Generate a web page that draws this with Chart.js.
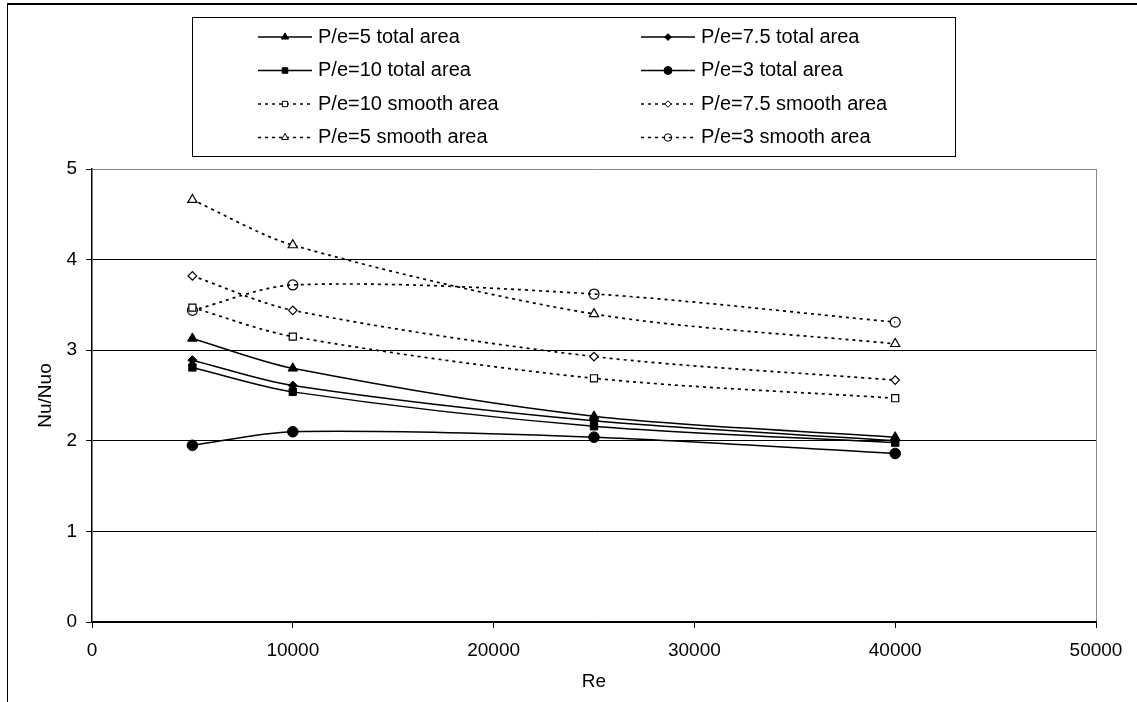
<!DOCTYPE html>
<html>
<head>
<meta charset="utf-8">
<title>Nu/Nuo vs Re</title>
<script src="https://cdn.jsdelivr.net/npm/chart.js@4/dist/chart.umd.min.js"></script>
<style>
    html, body { margin: 0; padding: 0; background: #fff; }
    #wrap { width: 1137px; height: 702px; position: relative; }
</style>
</head>
<body>
<div id="wrap"><canvas id="nuChart" width="1137" height="702"></canvas></div>
<script>
// Reynolds numbers tested
const reValues = [5000, 10000, 25000, 40000];

// Nu/Nuo based on total (ribbed) area
const pe5Total = [3.13, 2.80, 2.27, 2.04];
const pe75Total = [2.89, 2.61, 2.22, 2.00];
const pe10Total = [2.81, 2.54, 2.16, 1.98];
const pe3Total = [1.95, 2.10, 2.04, 1.86];

// Nu/Nuo based on smooth area
const pe10Smooth = [3.47, 3.15, 2.69, 2.47];
const pe75Smooth = [3.82, 3.44, 2.93, 2.67];
const pe5Smooth = [4.66, 4.16, 3.40, 3.07];
const pe3Smooth = [3.44, 3.72, 3.62, 3.31];

const xTicks = [0, 10000, 20000, 30000, 40000, 50000];
const yTicks = [0, 1, 2, 3, 4, 5];

const FONT = 'Liberation Sans, Arial, sans-serif';

const toPoints = (ys) => ys.map((y, i) => ({ x: reValues[i], y: y }));

// Solid line with filled marker
function totalSeries(label, ys, style, radius) {
    return {
        label: label,
        data: toPoints(ys),
        borderColor: '#000',
        borderWidth: 1.5,
        pointStyle: style,
        pointRadius: radius,
        pointBackgroundColor: '#000',
        pointBorderColor: '#000',
        pointBorderWidth: 1,
        tension: 0.3
    };
}

// Dotted line with hollow marker
function smoothSeries(label, ys, style, radius, fill) {
    return {
        label: label,
        data: toPoints(ys),
        borderColor: '#000',
        borderWidth: 1.7,
        borderDash: [3, 4],
        pointStyle: style,
        pointRadius: radius,
        pointBackgroundColor: fill,
        pointBorderColor: '#000',
        pointBorderWidth: 1.2,
        tension: 0.3
    };
}

const datasets = [
    totalSeries('P/e=5 total area', pe5Total, 'triangle', 5.5),
    totalSeries('P/e=7.5 total area', pe75Total, 'rectRot', 4.5),
    totalSeries('P/e=10 total area', pe10Total, 'rect', 5.2),
    totalSeries('P/e=3 total area', pe3Total, 'circle', 5.3),
    smoothSeries('P/e=10 smooth area', pe10Smooth, 'rect', 5, '#fff'),
    smoothSeries('P/e=7.5 smooth area', pe75Smooth, 'rectRot', 4.3, '#fff'),
    smoothSeries('P/e=5 smooth area', pe5Smooth, 'triangle', 5.3, '#fff'),
    smoothSeries('P/e=3 smooth area', pe3Smooth, 'circle', 5, 'rgba(0,0,0,0)')
];

// White page plus the outer frame of the chart object
const framePlugin = {
    id: 'frame',
    beforeDraw(chart) {
        const ctx = chart.ctx;
        ctx.save();
        ctx.fillStyle = '#fff';
        ctx.fillRect(0, 0, chart.width, chart.height);
        ctx.strokeStyle = '#000';
        ctx.lineWidth = 2;
        ctx.beginPath();
        ctx.moveTo(7, 4);
        ctx.lineTo(chart.width, 4);
        ctx.stroke();
        ctx.lineWidth = 1;
        ctx.beginPath();
        ctx.moveTo(7.5, 4);
        ctx.lineTo(7.5, chart.height);
        ctx.stroke();
        ctx.restore();
    }
};

// Two-column boxed legend above the plot
const boxLegend = {
    id: 'boxLegend',
    afterDraw(chart) {
        const ctx = chart.ctx;
        const box = { left: 192.5, top: 17.5, right: 955.5, bottom: 156.5 };
        const colX = [285, 668];
        const rowY = [37, 70.5, 104, 137.5];
        const helpers = Chart.helpers;

        ctx.save();
        ctx.strokeStyle = '#000';
        ctx.lineWidth = 1;
        ctx.strokeRect(box.left, box.top, box.right - box.left, box.bottom - box.top);

        ctx.font = '20px ' + FONT;
        ctx.textBaseline = 'middle';
        ctx.textAlign = 'left';

        chart.data.datasets.forEach((ds, i) => {
            const cx = colX[i % 2];
            const cy = rowY[Math.floor(i / 2)];

            ctx.strokeStyle = '#000';
            ctx.lineWidth = ds.borderDash ? 1.7 : 1.5;
            ctx.setLineDash(ds.borderDash || []);
            ctx.beginPath();
            ctx.moveTo(cx - 27, cy);
            ctx.lineTo(cx + 27, cy);
            ctx.stroke();
            ctx.setLineDash([]);

            ctx.fillStyle = ds.pointBackgroundColor;
            ctx.strokeStyle = ds.pointBorderColor;
            ctx.lineWidth = 1;
            const r = ds.pointRadius * 0.75;
            if (helpers && helpers.drawPoint) {
                helpers.drawPoint(ctx, { pointStyle: ds.pointStyle, radius: r, rotation: 0, borderWidth: 1 }, cx, cy);
            } else {
                ctx.beginPath();
                ctx.arc(cx, cy, r, 0, Math.PI * 2);
                ctx.fill();
                ctx.stroke();
            }

            ctx.fillStyle = '#000';
            ctx.fillText(ds.label, cx + 33, cy);
        });
        ctx.restore();
    }
};

const ctx = document.getElementById('nuChart');
new Chart(ctx, {
    type: 'line',
    data: { datasets: datasets },
    options: {
        responsive: false,
        animation: false,
        events: [],
        layout: {
            padding: { top: 169, right: 41, left: 0, bottom: 0 }
        },
        plugins: {
            legend: { display: false },
            tooltip: { enabled: false }
        },
        scales: {
            x: {
                type: 'linear',
                min: 0,
                max: 50000,
                afterBuildTicks: (scale) => { scale.ticks = xTicks.map(v => ({ value: v })); },
                afterFit: (scale) => { scale.height = 80; },
                ticks: {
                    color: '#000',
                    font: { family: FONT, size: 19 },
                    padding: 11,
                    maxRotation: 0,
                    callback: (v) => String(v)
                },
                grid: {
                    drawOnChartArea: true,
                    color: (c) => (c.tick && c.tick.value === 50000 ? '#888' : 'rgba(0,0,0,0)'),
                    tickColor: '#000',
                    tickLength: 6,
                    lineWidth: 1
                },
                border: { display: true, color: '#000', width: 1.5 },
                title: {
                    display: true,
                    text: 'Re',
                    color: '#000',
                    font: { family: FONT, size: 19 },
                    padding: { top: 0, bottom: 9 }
                }
            },
            y: {
                type: 'linear',
                min: 0,
                max: 5,
                afterBuildTicks: (scale) => { scale.ticks = yTicks.map(v => ({ value: v })); },
                afterFit: (scale) => { scale.width = 92; },
                ticks: {
                    color: '#000',
                    font: { family: FONT, size: 19 },
                    padding: 9
                },
                grid: {
                    color: (c) => (c.tick && c.tick.value === 5 ? '#888' : '#000'),
                    tickColor: '#000',
                    tickLength: 6,
                    lineWidth: 1
                },
                border: { display: true, color: '#000', width: 1.5 },
                title: {
                    display: true,
                    text: 'Nu/Nuo',
                    color: '#000',
                    font: { family: FONT, size: 19 },
                    padding: { top: 34, bottom: 0 }
                }
            }
        }
    },
    plugins: [framePlugin, boxLegend]
});
</script>
</body>
</html>
